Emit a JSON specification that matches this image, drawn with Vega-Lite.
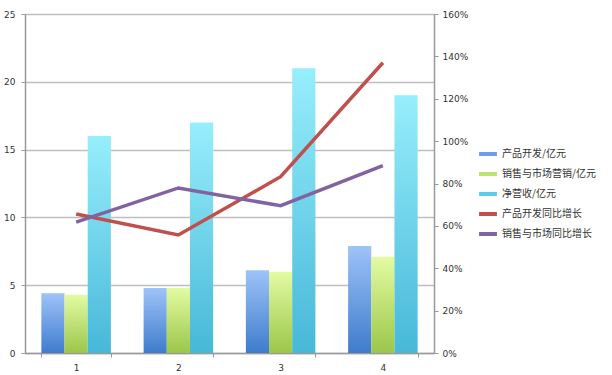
{
  "$schema": "https://vega.github.io/schema/vega-lite/v6.json",
  "width": 409,
  "height": 339,
  "autosize": {"type": "none"},
  "padding": {"left": 25, "top": 14, "right": 178, "bottom": 22},
  "background": "white",
  "config": {
    "view": {"stroke": null},
    "font": "DejaVu Sans",
    "axis": {"labelFont": "DejaVu Sans", "labelFontSize": 9, "labelColor": "#333333", "domainColor": "#999999", "tickColor": "#999999", "gridColor": "#BFBFBF", "gridWidth": 1.5, "tickSize": 4, "domainWidth": 1.5}
  },
  "datasets": {
    "bars": [
      {"q": "1", "series": "产品开发/亿元", "v": 4.4},
      {"q": "1", "series": "销售与市场营销/亿元", "v": 4.3},
      {"q": "1", "series": "净营收/亿元", "v": 16.0},
      {"q": "2", "series": "产品开发/亿元", "v": 4.8},
      {"q": "2", "series": "销售与市场营销/亿元", "v": 4.8},
      {"q": "2", "series": "净营收/亿元", "v": 17.0},
      {"q": "3", "series": "产品开发/亿元", "v": 6.1},
      {"q": "3", "series": "销售与市场营销/亿元", "v": 6.0},
      {"q": "3", "series": "净营收/亿元", "v": 21.0},
      {"q": "4", "series": "产品开发/亿元", "v": 7.9},
      {"q": "4", "series": "销售与市场营销/亿元", "v": 7.1},
      {"q": "4", "series": "净营收/亿元", "v": 19.0}
    ],
    "growth": [
      {"q": "1", "series": "产品开发同比增长", "g": 0.656},
      {"q": "2", "series": "产品开发同比增长", "g": 0.557},
      {"q": "3", "series": "产品开发同比增长", "g": 0.832},
      {"q": "4", "series": "产品开发同比增长", "g": 1.37},
      {"q": "1", "series": "销售与市场同比增长", "g": 0.618},
      {"q": "2", "series": "销售与市场同比增长", "g": 0.779},
      {"q": "3", "series": "销售与市场同比增长", "g": 0.695},
      {"q": "4", "series": "销售与市场同比增长", "g": 0.884}
    ]
  },
  "encoding": {
    "x": {
      "field": "q", "type": "ordinal",
      "scale": {"paddingInner": 0.32, "paddingOuter": 0.16},
      "axis": {"title": null, "labelAngle": 0, "tickBand": "extent", "grid": false, "labelPadding": 6}
    }
  },
  "layer": [
    {
      "data": {"name": "bars"},
      "mark": {"type": "bar"},
      "encoding": {
        "xOffset": {"field": "series", "type": "nominal", "sort": ["产品开发/亿元", "销售与市场营销/亿元", "净营收/亿元"], "scale": {"paddingInner": 0, "paddingOuter": 0}},
        "y": {
          "field": "v", "type": "quantitative",
          "scale": {"domain": [0, 25], "nice": false},
          "axis": {"title": null, "values": [0, 5, 10, 15, 20, 25], "grid": true, "labelPadding": 6}
        },
        "color": {
          "field": "series", "type": "nominal",
          "scale": {
            "domain": ["产品开发/亿元", "销售与市场营销/亿元", "净营收/亿元", "产品开发同比增长", "销售与市场同比增长"],
            "range": ["#6E9FE6", "#B9E374", "#5FCBE3", "#C0504D", "#8064A2"]
          },
          "legend": {
            "title": null, "orient": "none", "legendX": 452, "legendY": 129,
            "symbolType": "stroke", "symbolStrokeWidth": 4, "symbolSize": 320,
            "labelFont": "Noto Sans CJK SC", "labelFontSize": 10, "labelColor": "#333333",
            "rowPadding": 1, "labelOffset": 3
          },
          "condition": [
            {"test": "datum.series === '产品开发/亿元'", "value": {"gradient": "linear", "x1": 0, "y1": 0, "x2": 0, "y2": 1, "stops": [{"offset": 0, "color": "#9EC3F8"}, {"offset": 1, "color": "#3E7CCD"}]}},
            {"test": "datum.series === '销售与市场营销/亿元'", "value": {"gradient": "linear", "x1": 0, "y1": 0, "x2": 0, "y2": 1, "stops": [{"offset": 0, "color": "#E3FBA3"}, {"offset": 1, "color": "#9CC64A"}]}},
            {"test": "datum.series === '净营收/亿元'", "value": {"gradient": "linear", "x1": 0, "y1": 0, "x2": 0, "y2": 1, "stops": [{"offset": 0, "color": "#97EEFC"}, {"offset": 1, "color": "#47B8D8"}]}}
          ]
        }
      }
    },
    {
      "data": {"name": "growth"},
      "mark": {"type": "line", "strokeWidth": 3.5},
      "encoding": {
        "y": {
          "field": "g", "type": "quantitative",
          "scale": {"domain": [0, 1.6], "nice": false},
          "axis": {"title": null, "orient": "right", "values": [0, 0.2, 0.4, 0.6, 0.8, 1.0, 1.2, 1.4, 1.6], "format": ".0%", "grid": false, "labelPadding": 4}
        },
        "color": {
          "field": "series", "type": "nominal",
          "scale": {
            "domain": ["产品开发/亿元", "销售与市场营销/亿元", "净营收/亿元", "产品开发同比增长", "销售与市场同比增长"],
            "range": ["#6E9FE6", "#B9E374", "#5FCBE3", "#C0504D", "#8064A2"]
          }
        }
      }
    }
  ],
  "resolve": {"scale": {"y": "independent"}}
}
